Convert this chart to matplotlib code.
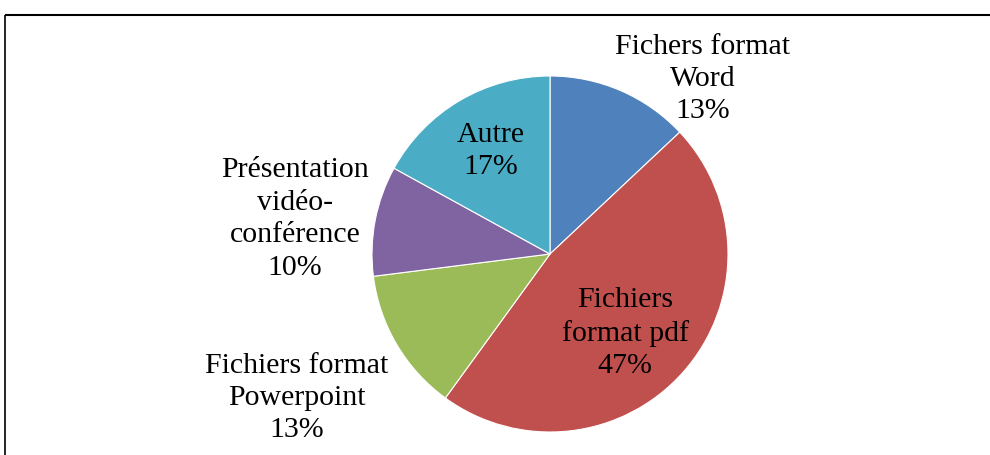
import matplotlib.pyplot as plt

# data
labels = ['Fichers format\nWord', 'Fichiers\nformat pdf', 'Fichiers format\nPowerpoint',
          'Présentation\nvidéo-\nconférence', 'Autre']
values = [13, 47, 13, 10, 17]
colors = ['#4F81BD', '#C0504D', '#9BBB59', '#8064A2', '#4BACC6']

# label positions in pixel coords (x, y from top)
label_pos = [(703, 79), (625, 333), (297, 398), (295, 219), (491, 151)]

W, H = 990, 455
fig = plt.figure(figsize=(W / 100, H / 100), dpi=100)
ax = fig.add_axes([0, 0, 1, 1])

ax.pie(values, colors=colors, startangle=90, counterclock=False,
       center=(550, H - 254), radius=178, frame=True,
       wedgeprops=dict(edgecolor='white', linewidth=0.8))
ax.set_xlim(0, W)
ax.set_ylim(0, H)
ax.set_aspect('equal')
ax.axis('off')

for lab, v, (x, y) in zip(labels, values, label_pos):
    ax.text(x, H - y, lab + '\n' + str(v) + '%', ha='center', va='center',
            fontsize=21.5, family='Liberation Serif', linespacing=1.32)

# chart border (cut off on right and bottom)
ax.plot([5, W], [H - 15, H - 15], color='black', linewidth=1.5, solid_capstyle='butt')
ax.plot([5, 5], [H - 15, 0], color='black', linewidth=1.2, solid_capstyle='butt')

fig.savefig('out.png', dpi=100)
